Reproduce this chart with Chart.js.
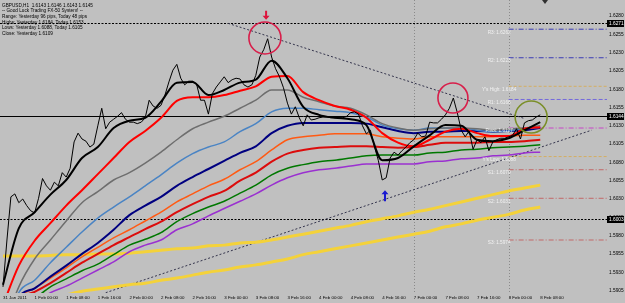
<!DOCTYPE html>
<html>
<head>
<meta charset="utf-8">
<script src="https://cdn.jsdelivr.net/npm/chart.js@4.4.1/dist/chart.umd.min.js"></script>
<style>
  html, body { margin: 0; padding: 0; background: #c0c0c0; }
  canvas { display: block; }
</style>
</head>
<body>
<canvas id="chart" width="625" height="303"></canvas>
<script>
// GBPUSD H1 closes, one per bar: 31 Jan 2011 16:00 .. 8 Feb 08:00
const closes = [
  1.5910, 1.5974, 1.6033, 1.6037, 1.6025, 1.6030, 1.6021, 1.6014, 1.6011, 1.6031,
  1.6058, 1.6048, 1.6042, 1.6053, 1.6048, 1.6066, 1.6060, 1.6072, 1.6108, 1.6120,
  1.6112, 1.6109, 1.6101, 1.6105, 1.6130, 1.6154, 1.6126, 1.6135, 1.6139, 1.6143,
  1.6148, 1.6139, 1.6135, 1.6135, 1.6133, 1.6135, 1.6141, 1.6165, 1.6157, 1.6154,
  1.6158, 1.6172, 1.6190, 1.6206, 1.6214, 1.6195, 1.6186, 1.6191, 1.6191, 1.6187,
  1.6165, 1.6165, 1.6146, 1.6174, 1.6183, 1.6190, 1.6197, 1.6189, 1.6193, 1.6195,
  1.6194, 1.6186, 1.6183, 1.6186, 1.6199, 1.6224, 1.6234, 1.6249, 1.6224, 1.6208,
  1.6197, 1.6182, 1.6161, 1.6146, 1.6156, 1.6141, 1.6130, 1.6145, 1.6138, 1.6139,
  1.6141, 1.6142, 1.6142, 1.6141, 1.6141, 1.6141, 1.6141, 1.6143, 1.6148, 1.6149,
  1.6146, 1.6130, 1.6119, 1.6124, 1.6102, 1.6083, 1.6056, 1.6059, 1.6086, 1.6094,
  1.6090, 1.6096, 1.6101, 1.6107, 1.6111, 1.6120, 1.6115, 1.6116, 1.6135, 1.6134,
  1.6134, 1.6139, 1.6145, 1.6154, 1.6168, 1.6148, 1.6124, 1.6115, 1.6123, 1.6098,
  1.6111, 1.6107, 1.6115, 1.6096, 1.6108, 1.6111, 1.6113, 1.6113, 1.6115, 1.6117,
  1.6126, 1.6112, 1.6134, 1.6137, 1.6138, 1.6142, 1.6145
];

// moving averages
const MA_STEP = 4;
const fastMA   = [1.5913, 1.5990, 1.6012, 1.6036, 1.6056, 1.6086, 1.6101, 1.6127, 1.6137, 1.6141, 1.6163, 1.6189, 1.6190, 1.6172, 1.6179, 1.6189, 1.6193, 1.6219, 1.6195, 1.6156, 1.6145, 1.6141, 1.6139, 1.6131, 1.6083, 1.6086, 1.6102, 1.6117, 1.6131, 1.6130, 1.6111, 1.6109, 1.6113, 1.6124, 1.6135];
const redMA    = [1.5885, 1.5939, 1.5973, 1.5997, 1.6021, 1.6042, 1.6064, 1.6086, 1.6108, 1.6123, 1.6141, 1.6164, 1.6169, 1.6169, 1.6172, 1.6178, 1.6184, 1.6197, 1.6198, 1.6176, 1.6165, 1.6157, 1.6152, 1.6141, 1.6120, 1.6107, 1.6102, 1.6111, 1.6122, 1.6126, 1.6120, 1.6116, 1.6116, 1.6126, 1.6128];
const grayMA   = [1.5851, 1.5910, 1.5948, 1.5974, 1.6000, 1.6025, 1.6040, 1.6056, 1.6066, 1.6079, 1.6094, 1.6111, 1.6126, 1.6135, 1.6143, 1.6154, 1.6165, 1.6179, 1.6179, 1.6169, 1.6163, 1.6157, 1.6154, 1.6145, 1.6133, 1.6127, 1.6124, 1.6126, 1.6127, 1.6127, 1.6126, 1.6124, 1.6126, 1.6127, 1.6130];
const steelMA  = [1.5837, 1.5902, 1.5919, 1.5943, 1.5964, 1.5985, 1.6004, 1.6019, 1.6033, 1.6048, 1.6063, 1.6079, 1.6092, 1.6101, 1.6108, 1.6122, 1.6133, 1.6149, 1.6154, 1.6154, 1.6152, 1.6150, 1.6148, 1.6142, 1.6131, 1.6126, 1.6124, 1.6127, 1.6127, 1.6127, 1.6124, 1.6122, 1.6123, 1.6126, 1.6128];
const navyMA   = [1.5837, 1.5896, 1.5908, 1.5924, 1.5939, 1.5955, 1.5970, 1.5988, 1.6008, 1.6021, 1.6033, 1.6048, 1.6060, 1.6071, 1.6082, 1.6093, 1.6102, 1.6120, 1.6130, 1.6134, 1.6134, 1.6134, 1.6134, 1.6133, 1.6128, 1.6123, 1.6120, 1.6122, 1.6122, 1.6123, 1.6123, 1.6122, 1.6123, 1.6124, 1.6127];
const orangeMA = [1.5851, 1.5895, 1.5908, 1.5922, 1.5936, 1.5951, 1.5964, 1.5977, 1.5988, 1.6000, 1.6012, 1.6026, 1.6037, 1.6048, 1.6057, 1.6070, 1.6081, 1.6097, 1.6111, 1.6115, 1.6117, 1.6119, 1.6119, 1.6119, 1.6115, 1.6113, 1.6112, 1.6115, 1.6115, 1.6115, 1.6115, 1.6115, 1.6116, 1.6117, 1.6117];
const red2MA   = [1.5851, 1.5893, 1.5903, 1.5915, 1.5929, 1.5943, 1.5955, 1.5967, 1.5978, 1.5989, 1.5999, 1.6012, 1.6023, 1.6033, 1.6041, 1.6055, 1.6066, 1.6081, 1.6092, 1.6097, 1.6100, 1.6101, 1.6102, 1.6102, 1.6101, 1.6100, 1.6101, 1.6104, 1.6107, 1.6107, 1.6107, 1.6108, 1.6108, 1.6109, 1.6111];
const greenMA  = [1.5851, 1.5892, 1.5896, 1.5910, 1.5921, 1.5932, 1.5941, 1.5954, 1.5967, 1.5975, 1.5984, 1.5999, 1.6010, 1.6019, 1.6027, 1.6038, 1.6049, 1.6063, 1.6072, 1.6077, 1.6081, 1.6083, 1.6086, 1.6089, 1.6090, 1.6090, 1.6090, 1.6093, 1.6094, 1.6097, 1.6098, 1.6100, 1.6101, 1.6102, 1.6104];
const purpleMA = [1.5851, 1.5886, 1.5889, 1.5902, 1.5911, 1.5922, 1.5933, 1.5944, 1.5958, 1.5967, 1.5974, 1.5988, 1.5996, 1.6007, 1.6017, 1.6027, 1.6037, 1.6049, 1.6059, 1.6066, 1.6070, 1.6072, 1.6075, 1.6078, 1.6078, 1.6078, 1.6078, 1.6081, 1.6082, 1.6085, 1.6086, 1.6089, 1.6090, 1.6093, 1.6094];
const slowMA   = [1.5952, 1.5952, 1.5952, 1.5953, 1.5954, 1.5954, 1.5955, 1.5955, 1.5956, 1.5958, 1.5960, 1.5962, 1.5963, 1.5966, 1.5967, 1.5970, 1.5971, 1.5974, 1.5978, 1.5982, 1.5986, 1.5990, 1.5994, 1.5999, 1.6003, 1.6007, 1.6012, 1.6016, 1.6021, 1.6026, 1.6031, 1.6036, 1.6041, 1.6045, 1.6049];
const slowMA2  = [null, null, null, null, 1.5899, 1.5904, 1.5907, 1.5910, 1.5913, 1.5915, 1.5919, 1.5922, 1.5926, 1.5930, 1.5933, 1.5937, 1.5940, 1.5944, 1.5948, 1.5954, 1.5958, 1.5962, 1.5966, 1.5970, 1.5974, 1.5978, 1.5982, 1.5986, 1.5992, 1.5996, 1.6001, 1.6005, 1.6009, 1.6015, 1.6019];

// trendlines: [bar, price] end points
const trendDown = [[57, 1.6270], [132, 1.6140]];
const trendUp   = [[26, 1.5902], [149, 1.6124]];

// daily pivots, drawn from 8 Feb 00:00
const PIVOT_START = 128;
const pivotNames  = ['R3', 'R2', "Y's High", 'R1', 'Pivot', "Y's Low", 'S1', 'S2', 'S3'];
const pivotValues = [1.6262, 1.6223, 1.6184, 1.6166, 1.6127, 1.6088, 1.6070, 1.6031, 1.5974];

// horizontal levels: range high, bid, range low
const levelValues = [1.6271, 1.6144, 1.6003];
const daySeparators = [104, 128];

// annotations (bar, price)
const circleBars   = [66.3, 113.9, 133.7];
const circlePrices = [1.6250, 1.6168, 1.6142];
const arrowBars    = [66.6, 96.7];
const arrowPrices  = [1.6275, 1.6042];

const LABEL_EVERY = 8;
const timeLabels = ['31 Jan 2011', '1 Feb 00:00', '1 Feb 08:00', '1 Feb 16:00', '2 Feb 00:00', '2 Feb 08:00',
  '2 Feb 16:00', '3 Feb 00:00', '3 Feb 08:00', '3 Feb 16:00', '4 Feb 00:00', '4 Feb 08:00', '4 Feb 16:00',
  '7 Feb 00:00', '7 Feb 08:00', '7 Feb 16:00', '8 Feb 00:00', '8 Feb 08:00'];
const priceTicks = [1.5905, 1.5930, 1.5955, 1.5980, 1.6005, 1.6030, 1.6055, 1.6080, 1.6105, 1.6130,
  1.6155, 1.6180, 1.6205, 1.6230, 1.6255, 1.6280];

const infoLines = [
  'GBPUSD,H1  1.6143 1.6146 1.6143 1.6145',
  '-- Good Luck Trading FX-50 System! --',
  'Range: Yesterday 96 pips, Today 48 pips',
  'Highs: Yesterday 1.6184, Today 1.6153',
  'Lows: Yesterday 1.6088, Today 1.6105',
  'Close: Yesterday 1.6109'
];

const X_MIN = -0.76, X_MAX = 152.9;
const Y_MIN = 1.59016, Y_MAX = 1.63019;
const FONT = 'Liberation Sans, Arial, sans-serif';

const maPoints = vals => vals.map((v, k) => ({ x: k * MA_STEP, y: v })).filter(p => p.y !== null);
const pairPoints = pts => pts.map(p => ({ x: p[0], y: p[1] }));
const line = (data, color, width, extra) => Object.assign({
  data, borderColor: color, borderWidth: width, pointRadius: 0, fill: false,
  cubicInterpolationMode: 'monotone'
}, extra || {});

const pivotColors = ['#3b3bb4', '#3b3bb4', '#d4ae62', '#7468dc', '#c846c8', '#d4ae62', '#c26868', '#c26868', '#c26868'];
const pivotDashes = [[5, 2, 1, 2], [5, 2, 1, 2], [3, 2], [4, 2], [5, 2, 1, 2], [3, 2], [5, 2, 1, 2], [5, 2, 1, 2], [5, 2, 1, 2]];

const datasets = [
  line(closes.map((v, i) => ({ x: i, y: v })), '#000000', 1, { cubicInterpolationMode: 'default', tension: 0 }),
  line(maPoints(fastMA), '#000000', 2),
  line(maPoints(redMA), '#ff0000', 2),
  line(maPoints(grayMA), '#6e6e6e', 1.5),
  line(maPoints(steelMA), '#4a84c4', 1.5),
  line(maPoints(navyMA), '#000080', 2),
  line(maPoints(orangeMA), '#ff5a14', 1.5),
  line(maPoints(red2MA), '#dc0c0c', 2),
  line(maPoints(greenMA), '#007800', 1.5),
  line(maPoints(purpleMA), '#9a30d0', 1.5),
  line(maPoints(slowMA), '#f4d23a', 3),
  line(maPoints(slowMA2), '#f4d23a', 3),
  line(pairPoints(trendDown), '#34344c', 1, { borderDash: [2, 2] }),
  line(pairPoints(trendUp), '#34344c', 1, { borderDash: [2, 2] })
];
pivotValues.forEach((v, k) => {
  datasets.push(line([{ x: PIVOT_START, y: v }, { x: X_MAX, y: v }], pivotColors[k], 1, { borderDash: pivotDashes[k] }));
});

function drawArrow(ctx, px, py, dir, len) {
  // (px, py) is the tip; dir 1 = pointing down, -1 = pointing up
  ctx.beginPath();
  ctx.moveTo(px, py);
  ctx.lineTo(px - 3.5, py - dir * 4);
  ctx.lineTo(px - 1, py - dir * 4);
  ctx.lineTo(px - 1, py - dir * len);
  ctx.lineTo(px + 1, py - dir * len);
  ctx.lineTo(px + 1, py - dir * 4);
  ctx.lineTo(px + 3.5, py - dir * 4);
  ctx.closePath();
  ctx.fill();
}

const overlay = {
  id: 'overlay',
  beforeDraw(chart) {
    const { ctx, width, height } = chart;
    ctx.save();
    ctx.fillStyle = '#c0c0c0';
    ctx.fillRect(0, 0, width, height);
    ctx.restore();
  },
  beforeDatasetsDraw(chart) {
    const { ctx, chartArea: a, scales: { x, y } } = chart;
    ctx.save();
    ctx.lineWidth = 1;
    ctx.strokeStyle = '#8a8a8a';
    ctx.setLineDash([1, 2]);
    daySeparators.forEach(i => {
      const px = Math.round(x.getPixelForValue(i)) + 0.5;
      ctx.beginPath(); ctx.moveTo(px, a.top); ctx.lineTo(px, a.bottom); ctx.stroke();
    });
    ctx.strokeStyle = '#000';
    levelValues.forEach((v, k) => {
      const py = Math.round(y.getPixelForValue(v)) + 0.5;
      ctx.setLineDash(k === 1 ? [] : [2, 1.5]);
      ctx.beginPath(); ctx.moveTo(a.left, py); ctx.lineTo(a.right, py); ctx.stroke();
    });
    ctx.restore();
  },
  afterDatasetsDraw(chart) {
    const { ctx, scales: { x, y } } = chart;
    ctx.save();
    // pivot labels
    ctx.font = '4.7px ' + FONT;
    ctx.fillStyle = '#f2f2f2';
    ctx.textAlign = 'center';
    ctx.textBaseline = 'middle';
    pivotValues.forEach((v, k) => {
      ctx.fillText(pivotNames[k] + ': ' + v.toFixed(4), x.getPixelForValue(125.6), y.getPixelForValue(v) + 3);
    });
    // circles
    const circleColors = ['#d81e4a', '#d81e4a', '#7a8e28'];
    const radii = [16, 15, 16];
    ctx.lineWidth = 1.6;
    circleBars.forEach((b, k) => {
      ctx.strokeStyle = circleColors[k];
      ctx.beginPath();
      ctx.arc(x.getPixelForValue(b), y.getPixelForValue(circlePrices[k]), radii[k], 0, Math.PI * 2);
      ctx.stroke();
    });
    // arrows
    ctx.fillStyle = '#dc143c';
    drawArrow(ctx, x.getPixelForValue(arrowBars[0]), y.getPixelForValue(arrowPrices[0]), 1, 9);
    ctx.fillStyle = '#1a1ad0';
    drawArrow(ctx, x.getPixelForValue(arrowBars[1]), y.getPixelForValue(arrowPrices[1]), -1, 11);
    ctx.restore();
  },
  afterDraw(chart) {
    const { ctx, chartArea: a, scales: { y } } = chart;
    ctx.save();
    ctx.fillStyle = '#000';
    ctx.font = '4.7px ' + FONT;
    ctx.textAlign = 'left';
    ctx.textBaseline = 'middle';
    infoLines.forEach((t, k) => ctx.fillText(t, 2, 5.5 + k * 5.6));
    // level boxes on the price axis
    ctx.font = '4.8px ' + FONT;
    levelValues.forEach(v => {
      const py = Math.round(y.getPixelForValue(v));
      ctx.fillStyle = '#000';
      ctx.fillRect(a.right, py - 3, 17, 7);
      ctx.fillStyle = '#fff';
      ctx.fillText(v.toFixed(4), a.right + 2, py + 0.5);
    });
    // chart shift marker
    ctx.fillStyle = '#303030';
    ctx.beginPath();
    ctx.moveTo(542, 0); ctx.lineTo(548, 0); ctx.lineTo(545, 4); ctx.closePath();
    ctx.fill();
    ctx.restore();
  }
};

new Chart(document.getElementById('chart'), {
  type: 'line',
  data: { datasets },
  options: {
    responsive: false,
    animation: false,
    layout: { padding: 0 },
    plugins: { legend: { display: false }, tooltip: { enabled: false } },
    scales: {
      x: {
        type: 'linear', min: X_MIN, max: X_MAX,
        grid: { display: false, drawTicks: false }, border: { display: false },
        afterBuildTicks: s => { s.ticks = timeLabels.map((_, k) => ({ value: k * LABEL_EVERY })); },
        afterFit: s => { s.height = 10; s.paddingLeft = 0; s.paddingRight = 0; },
        ticks: {
          autoSkip: false, maxRotation: 0, minRotation: 0, align: 'start', padding: 2,
          color: '#000', font: { family: FONT, size: 4.4 },
          callback: v => timeLabels[Math.round(v / LABEL_EVERY)]
        }
      },
      y: {
        position: 'right', min: Y_MIN, max: Y_MAX,
        grid: { display: false, drawTicks: false }, border: { display: false },
        afterBuildTicks: s => { s.ticks = priceTicks.map(v => ({ value: v })); },
        afterFit: s => { s.width = 18; s.paddingTop = 0; s.paddingBottom = 0; },
        ticks: { padding: 2, color: '#000', font: { family: FONT, size: 4.8 }, callback: v => v.toFixed(4) }
      }
    }
  },
  plugins: [overlay]
});
</script>
</body>
</html>
